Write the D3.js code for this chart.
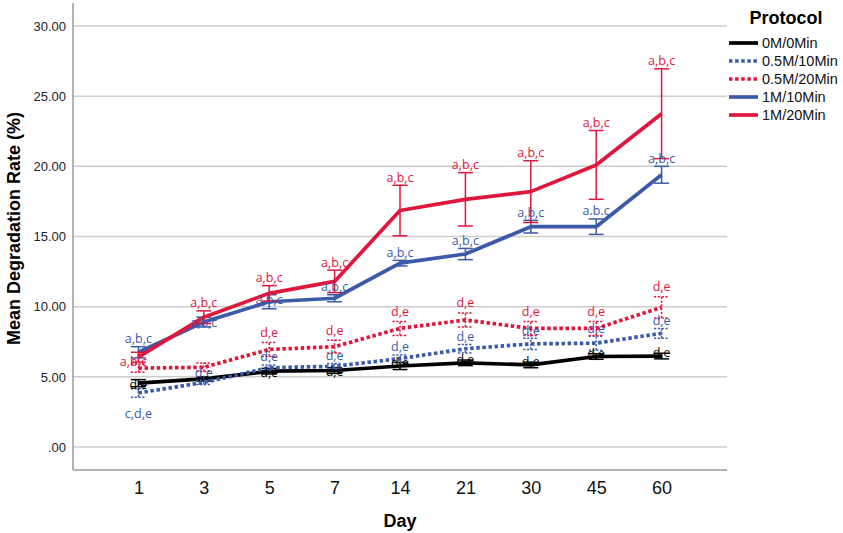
<!DOCTYPE html>
<html>
<head>
<meta charset="utf-8">
<script src="https://cdn.jsdelivr.net/npm/d3@7"></script>
<style>
  body { margin: 0; background: #fff; }
  svg { display: block; }
</style>
</head>
<body>
<div id="chart"></div>
<script>
const days = ["1", "3", "5", "7", "14", "21", "30", "45", "60"];
const yTicks = [0, 5, 10, 15, 20, 25, 30];
const protocols = ["0M/0Min", "0.5M/10Min", "0.5M/20Min", "1M/10Min", "1M/20Min"];

// mean degradation rate (%) per day
const mean0M = [4.55, 4.85, 5.40, 5.45, 5.77, 6.00, 5.85, 6.45, 6.48];
const mean05M10 = [3.85, 4.60, 5.65, 5.75, 6.30, 7.00, 7.35, 7.40, 8.10];
const mean05M20 = [5.62, 5.68, 6.95, 7.15, 8.45, 9.05, 8.45, 8.45, 9.95];
const mean1M10 = [6.75, 8.90, 10.35, 10.60, 13.10, 13.75, 15.70, 15.70, 19.40];
const mean1M20 = [6.40, 9.25, 10.95, 11.80, 16.85, 17.65, 18.20, 20.10, 23.75];

// error bar half-widths
const err0M = [0.25, 0.15, 0.20, 0.20, 0.25, 0.20, 0.20, 0.20, 0.20];
const err05M10 = [0.30, 0.15, 0.20, 0.20, 0.25, 0.30, 0.40, 0.50, 0.35];
const err05M20 = [0.30, 0.30, 0.50, 0.45, 0.50, 0.50, 0.50, 0.50, 0.75];
const err1M10 = [0.40, 0.35, 0.50, 0.25, 0.20, 0.40, 0.45, 0.55, 0.60];
const err1M20 = [0.35, 0.45, 0.55, 0.80, 1.80, 1.90, 2.20, 2.45, 3.20];

// significance letters
const sig0M = ["d,e", "", "d,e", "d,e", "d,e", "d,e", "d,e", "d,e", "d,e"];
const sig05M10 = ["c,d,e", "d,e", "d,e", "d,e", "d,e", "d,e", "d,e", "d,e", "d,e"];
const sig05M20 = ["", "", "d,e", "d,e", "d,e", "d,e", "d,e", "d,e", "d,e"];
const sig1M10 = ["a,b,c", "a,b,c", "a,b,c", "a,b,c", "a,b,c", "a,b,c", "a,b,c", "a.b.c", "a,b,c"];
const sig1M20 = ["a,b,c", "a,b,c", "a,b,c", "a,b,c", "a,b,c", "a,b,c", "a,b,c", "a,b,c", "a,b,c"];

const [black, blue, red] = ["#000000", "#3b5ba9", "#e0173d"];

const series = [
    {name: protocols[0], color: black, dotted: false, mean: mean0M, err: err0M, sig: sig0M},
    {name: protocols[1], color: blue, dotted: true, mean: mean05M10, err: err05M10, sig: sig05M10},
    {name: protocols[2], color: red, dotted: true, mean: mean05M20, err: err05M20, sig: sig05M20},
    {name: protocols[3], color: blue, dotted: false, mean: mean1M10, err: err1M10, sig: sig1M10},
    {name: protocols[4], color: red, dotted: false, mean: mean1M20, err: err1M20, sig: sig1M20}
];

const dims = {width: 843, height: 533, left: 73, right: 727, top: 3, bottom: 470};

const svg = d3.select("#chart")
    .append("svg")
    .attr("width", dims.width)
    .attr("height", dims.height)
    .style("font-family", "'Liberation Sans', Arial, sans-serif");

const x = d3.scalePoint().domain(days).range([dims.left, dims.right]).padding(1);
const y = d3.scaleLinear().domain([0, 30]).range([447, 26]);

// grid
svg.append("g")
    .selectAll("line")
    .data(yTicks)
    .join("line")
    .attr("x1", dims.left)
    .attr("x2", dims.right)
    .attr("y1", d => y(d))
    .attr("y2", d => y(d))
    .style("stroke", "#cdcdcd")
    .style("stroke-width", 1.5);

// axes
const fmt = d => d3.format(".2f")(d).replace(/^0\./, ".");
const yAxis = svg.append("g")
    .attr("transform", `translate(${dims.left},0)`)
    .call(d3.axisLeft(y).tickValues(yTicks).tickSize(0).tickPadding(7).tickFormat(fmt));
yAxis.select(".domain").remove();
yAxis.selectAll("text")
    .style("font-size", "13px")
    .style("font-family", "'Liberation Sans', Arial, sans-serif")
    .style("fill", "#222");

const xAxis = svg.append("g")
    .attr("transform", `translate(0,${dims.bottom})`)
    .call(d3.axisBottom(x).tickSize(0).tickPadding(11));
xAxis.select(".domain").remove();
xAxis.selectAll("text")
    .style("font-size", "18px")
    .style("font-family", "'Liberation Sans', Arial, sans-serif")
    .style("fill", "#111");

svg.append("line")
    .attr("x1", dims.left).attr("x2", dims.left)
    .attr("y1", dims.top).attr("y2", dims.bottom)
    .style("stroke", "#9a9a9a").style("stroke-width", 1.5);
svg.append("line")
    .attr("x1", dims.left).attr("x2", dims.right)
    .attr("y1", dims.bottom).attr("y2", dims.bottom)
    .style("stroke", "#9a9a9a").style("stroke-width", 1.5);

// axis titles
svg.append("text")
    .attr("transform", `translate(14,${(dims.top + dims.bottom) / 2 - 8}) rotate(-90)`)
    .attr("dy", "0.35em")
    .style("text-anchor", "middle")
    .style("font-size", "18px")
    .style("font-weight", "bold")
    .text("Mean Degradation Rate (%)");

svg.append("text")
    .attr("x", (dims.left + dims.right) / 2)
    .attr("y", 527)
    .style("text-anchor", "middle")
    .style("font-size", "18px")
    .style("font-weight", "bold")
    .text("Day");

// series
const line = d3.line()
    .x((d, i) => x(days[i]))
    .y(d => y(d));

const capW = 7.5;
const groups = svg.append("g")
    .selectAll("g")
    .data(series)
    .join("g");

groups.each(function(s) {
    const g = d3.select(this);
    const dash = s.dotted ? "2.2,1.6" : null;
    const bars = g.selectAll(".bar")
        .data(days.map((d, i) => ({day: d, lo: s.mean[i] - s.err[i], hi: s.mean[i] + s.err[i]})))
        .join("g")
        .attr("class", "bar")
        .style("stroke", s.color)
        .style("stroke-width", 1.5)
        .style("stroke-dasharray", dash);
    bars.append("line")
        .attr("x1", d => x(d.day)).attr("x2", d => x(d.day))
        .attr("y1", d => y(d.lo)).attr("y2", d => y(d.hi));
    bars.append("line")
        .attr("x1", d => x(d.day) - capW).attr("x2", d => x(d.day) + capW)
        .attr("y1", d => y(d.lo)).attr("y2", d => y(d.lo));
    bars.append("line")
        .attr("x1", d => x(d.day) - capW).attr("x2", d => x(d.day) + capW)
        .attr("y1", d => y(d.hi)).attr("y2", d => y(d.hi));

    g.append("path")
        .datum(s.mean)
        .attr("d", line)
        .style("fill", "none")
        .style("stroke", s.color)
        .style("stroke-width", 3.7)
        .style("stroke-linejoin", "round")
        .style("stroke-dasharray", s.dotted ? "3.5,2.6" : null);
});

// significance letters
function labelPos(si, i) {
    const s = series[si];
    const top = y(s.mean[i] + s.err[i]);
    const px = x(days[i]);
    if (si === 1 && i === 0) return [px, y(s.mean[i] - s.err[i]) + 16];
    if (si === 4 && i === 0) return [px - 5, y(s.mean[i]) + 4];
    if (si === 0) return [px, y(s.mean[i]) + (i < 4 ? 1 : -3)];
    if (si === 2) return [px, top - 10];
    if (si === 3 && (i === 1 || i === 2)) return [px, top + 5];
    return [px, top - 8];
}

const labels = [];
series.forEach((s, si) => s.sig.forEach((t, i) => {
    if (t) labels.push({text: t, color: s.color, pos: labelPos(si, i)});
}));

svg.append("g")
    .selectAll("text")
    .data(labels)
    .join("text")
    .attr("x", d => d.pos[0])
    .attr("y", d => d.pos[1])
    .attr("dy", "0.35em")
    .style("text-anchor", "middle")
    .style("font-family", "'Open Sans', sans-serif")
    .style("font-size", "12.5px")
    .style("fill", d => d.color)
    .text(d => d.text);

// legend
const legend = svg.append("g").attr("transform", "translate(729,0)");
legend.append("text")
    .attr("x", 57)
    .attr("y", 18)
    .attr("dy", "0.35em")
    .style("text-anchor", "middle")
    .style("font-size", "18px")
    .style("font-weight", "bold")
    .text("Protocol");

const items = legend.selectAll(".item")
    .data(series)
    .join("g")
    .attr("class", "item")
    .attr("transform", (d, i) => `translate(0,${43 + i * 18})`);
items.append("line")
    .attr("x1", 0).attr("x2", 29)
    .style("stroke", d => d.color)
    .style("stroke-width", 3.7)
    .style("stroke-dasharray", d => d.dotted ? "3.5,2.6" : null);
items.append("text")
    .attr("x", 33)
    .attr("dy", "0.35em")
    .style("font-size", "14.5px")
    .style("fill", "#111")
    .text(d => d.name);
</script>
</body>
</html>
